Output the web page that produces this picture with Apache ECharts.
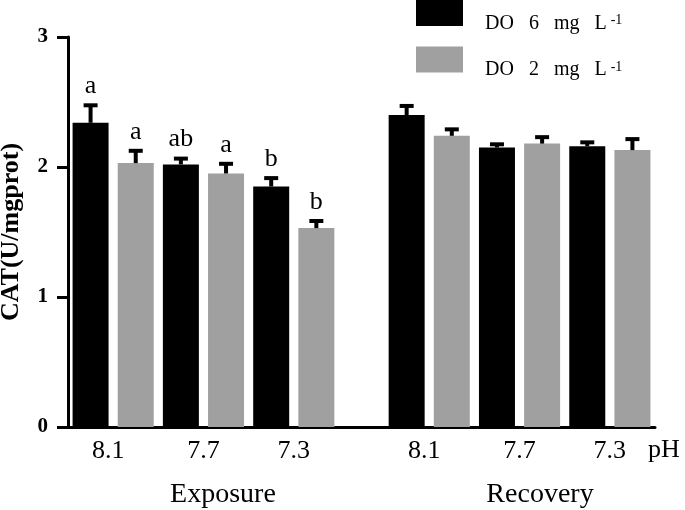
<!DOCTYPE html>
<html>
<head>
<meta charset="utf-8">
<script src="https://cdn.jsdelivr.net/npm/echarts@6/dist/echarts.min.js"></script>
<style>html,body{margin:0;padding:0;background:#fff}#c{width:685px;height:510px}</style>
</head>
<body>
<div id="c"></div>
<script>
// ---- data ----
const groupLabels = ['8.1', '7.7', '7.3', '8.1', '7.7', '7.3'];
const stageNames = ['Exposure', 'Recovery'];
const seriesNames = ['DO 6 mg L-1', 'DO 2 mg L-1'];
const do6Means = [2.34, 2.02, 1.85, 2.40, 2.15, 2.16];
const do6Errors = [0.15, 0.06, 0.08, 0.085, 0.04, 0.045];
const do6Letters = ['a', 'ab', 'b', '', '', ''];
const do2Means = [2.03, 1.95, 1.53, 2.24, 2.18, 2.13];
const do2Errors = [0.11, 0.09, 0.07, 0.065, 0.065, 0.10];
const do2Letters = ['a', 'a', 'b', '', '', ''];
const yTicks = [0, 1, 2, 3];
const xAxisName = 'pH';
const yAxisName = 'CAT(U/mgprot)';

const SERIF = '"Liberation Serif", "Times New Roman", serif';
const BAR_W = 36;

// slot position on the value x axis: 3 pairs per stage, one empty slot between stages
function slotCenter(g, k) {
  const stage = Math.floor(g / 3), within = g % 3;
  return stage * 7 + within * 2 + k + 0.5;
}
function pairCenter(g) { return slotCenter(g, 0) + 0.5; }

function seriesData(means, errs, k) { return means.map((m, g) => [slotCenter(g, k), m, errs[g]]); }

function barRenderer(letters) {
  return function (params, api) {
    const x = api.value(0), m = api.value(1), e = api.value(2);
    const zero = api.coord([x, 0]);
    const base = api.coord([x, m]);
    const top = api.coord([x, m + e]);
    const children = [
      { type: 'rect', shape: { x: zero[0] - BAR_W / 2, y: base[1], width: BAR_W, height: zero[1] - base[1] },
        style: { fill: api.visual('color') } },
      { type: 'line', shape: { x1: base[0], y1: base[1], x2: top[0], y2: top[1] + 2 },
        style: { stroke: '#000', lineWidth: 4 } },
      { type: 'line', shape: { x1: top[0] - 7, y1: top[1] + 2, x2: top[0] + 7, y2: top[1] + 2 },
        style: { stroke: '#000', lineWidth: 4 } }
    ];
    const t = letters[params.dataIndex];
    if (t) {
      children.push({ type: 'text', x: top[0], y: top[1] - 4,
        style: { text: t, font: '26px ' + SERIF, fill: '#000', align: 'center', verticalAlign: 'bottom' } });
    }
    return { type: 'group', children: children };
  };
}

const chart = echarts.init(document.getElementById('c'), null, { renderer: 'canvas' });

function legendName(n) {
  const main = n.replace(/-1$/, '');
  return '{a|' + main.replace(/ /g, '   ') + '}{s|-1}';
}

chart.setOption({
  animation: false,
  backgroundColor: '#fff',
  grid: { left: 68, right: 30, top: 37, bottom: 83, outerBoundsMode: 'none', containLabel: false },
  legend: {
    data: seriesNames,
    orient: 'vertical',
    left: 416,
    top: 0,
    padding: 0,
    itemGap: 13,
    itemWidth: 47,
    itemHeight: 26,
    icon: 'rect',
    selectedMode: false,
    formatter: legendName,
    textStyle: {
      padding: [21, 0, 0, 17],
      rich: {
        a: { fontFamily: SERIF, fontSize: 20, color: '#000', lineHeight: 20, verticalAlign: 'bottom', padding: [8, 0, 0, 0] },
        s: { fontFamily: SERIF, fontSize: 14, color: '#000', lineHeight: 14, verticalAlign: 'top', padding: [0, 0, 0, 4] }
      }
    }
  },
  xAxis: {
    type: 'value',
    min: 0,
    max: 13,
    interval: 1,
    splitLine: { show: false },
    axisTick: { show: false },
    axisLine: { show: true, lineStyle: { color: '#000', width: 3 } },
    axisLabel: {
      margin: 11,
      color: '#000',
      fontFamily: SERIF,
      fontSize: 26,
      showMinLabel: true,
      showMaxLabel: true,
      formatter: function (v) {
        for (let g = 0; g < groupLabels.length; g++) {
          if (Math.abs(pairCenter(g) - v) < 1e-6) {
            return g % 3 === 0 ? '{l|' + groupLabels[g] + '}' : groupLabels[g];
          }
        }
        return '';
      },
      rich: { l: { fontFamily: SERIF, fontSize: 26, color: '#000', padding: [0, 10, 0, 0] } }
    }
  },
  yAxis: {
    type: 'value',
    min: yTicks[0],
    max: yTicks[yTicks.length - 1],
    interval: 1,
    name: yAxisName,
    nameLocation: 'middle',
    nameRotate: 90,
    nameGap: 44,
    nameTextStyle: { fontFamily: SERIF, fontWeight: 'bold', fontSize: 26, color: '#000' },
    splitLine: { show: false },
    axisLine: { show: true, lineStyle: { color: '#000', width: 3 } },
    axisTick: { show: true, inside: false, length: 11, lineStyle: { color: '#000', width: 3 } },
    axisLabel: { margin: 20, color: '#000', fontFamily: SERIF, fontWeight: 'bold', fontSize: 21 }
  },
  series: [
    { name: seriesNames[0], type: 'custom', data: seriesData(do6Means, do6Errors, 0),
      renderItem: barRenderer(do6Letters), itemStyle: { color: '#000' },
      encode: { x: 0, y: [1] }, z: 2 },
    { name: seriesNames[1], type: 'custom', data: seriesData(do2Means, do2Errors, 1),
      renderItem: barRenderer(do2Letters), itemStyle: { color: '#a0a0a0' },
      encode: { x: 0, y: [1] }, z: 2 }
  ],
  graphic: [
    { type: 'text', left: 648, top: 437, style: { text: xAxisName, font: '26px ' + SERIF, fill: '#000' } },
    { type: 'text', x: 223, y: 495, style: { text: stageNames[0], font: '28px ' + SERIF, fill: '#000', align: 'center', verticalAlign: 'middle' } },
    { type: 'text', x: 540, y: 495, style: { text: stageNames[1], font: '28px ' + SERIF, fill: '#000', align: 'center', verticalAlign: 'middle' } }
  ]
});
</script>
</body>
</html>
